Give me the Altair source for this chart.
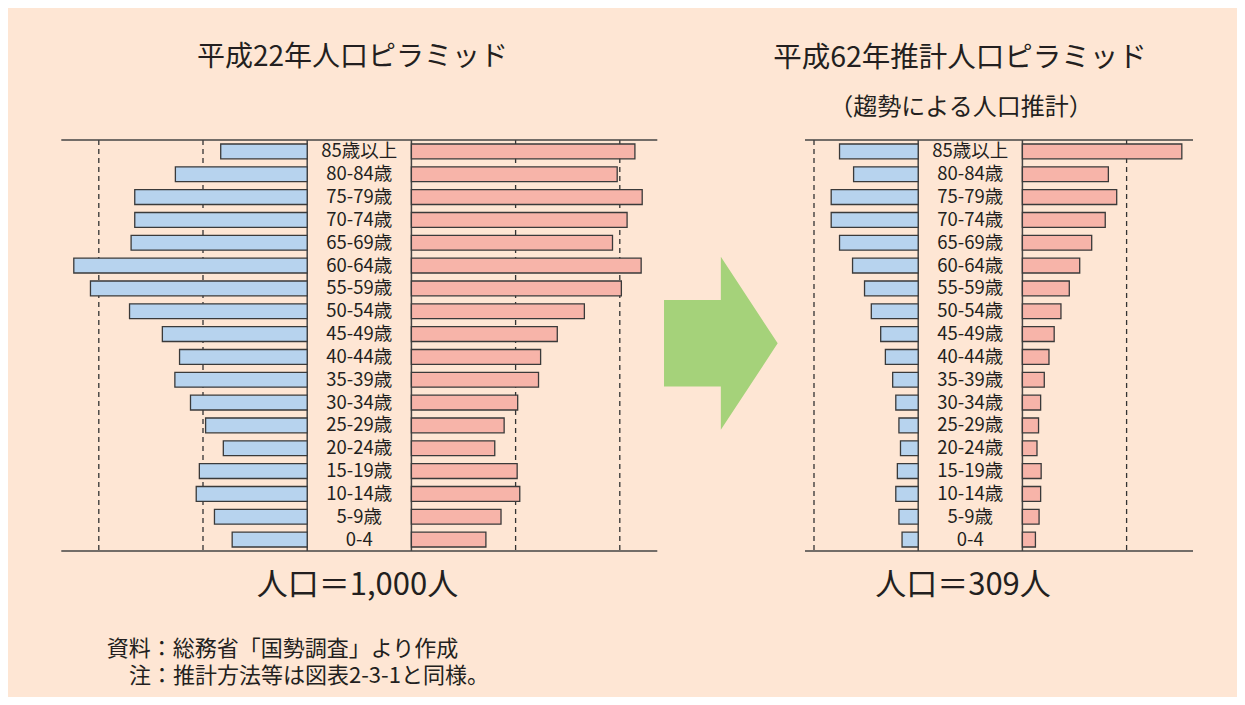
import altair as alt
import pandas as pd

# ---------------- data ----------------
ages = ["85歳以上", "80-84歳", "75-79歳", "70-74歳", "65-69歳", "60-64歳",
        "55-59歳", "50-54歳", "45-49歳", "40-44歳", "35-39歳", "30-34歳",
        "25-29歳", "20-24歳", "15-19歳", "10-14歳", "5-9歳", "0-4"]

# per 1,000 people (H22 total = 1,000)
male_h22 = [16.6, 25.3, 33.1, 33.1, 33.8, 44.8, 41.6, 34.1, 27.8, 24.5,
            25.4, 22.4, 19.5, 16.1, 20.7, 21.3, 17.8, 14.4]
female_h22 = [42.9, 39.5, 44.3, 41.4, 38.6, 44.1, 40.3, 33.2, 28.0, 24.8,
              24.4, 20.4, 17.8, 16.0, 20.3, 20.8, 17.2, 14.3]
# H62 projection (total = 309)
male_h62 = [15.1, 12.4, 16.7, 16.7, 15.1, 12.6, 10.3, 9.0, 7.2, 6.3,
            4.9, 4.3, 3.7, 3.4, 4.0, 4.3, 3.7, 3.1]
female_h62 = [30.6, 16.5, 18.1, 15.9, 13.3, 11.0, 9.0, 7.4, 6.1, 5.1,
              4.2, 3.5, 3.1, 2.8, 3.6, 3.5, 3.2, 2.5]

grid_h22 = [20, 40]
grid_h62 = [20]

title_h22 = "平成22年人口ピラミッド"
title_h62 = "平成62年推計人口ピラミッド"
subtitle_h62 = "（趨勢による人口推計）"
total_h22 = "人口＝1,000人"
total_h62 = "人口＝309人"
note1 = "資料：総務省「国勢調査」より作成"
note2 = "注：推計方法等は図表2-3-1と同様。"

# ---------------- style ----------------
BG = "#FEE6D4"
BLUE = "#B7D3EE"
PINK = "#F7B4A9"
GREEN = "#A5D27A"
EDGE = "#3A3A3A"
TEXT = "#231F20"
FONT = "Noto Sans CJK JP"
HALF = 10  # half of the central label gap, in data units
Y_TOP, Y_BOT = 132, 543

W, H = 1229, 689

yscale = alt.Scale(domain=ages, range=[Y_TOP, Y_BOT], paddingInner=0.35, paddingOuter=0.175)


def pyramid(male, female, grid, dom, rng):
    xs = alt.Scale(domain=dom, range=rng)
    df = pd.DataFrame({"age": ages, "male": male, "female": female})
    Y = alt.Y("age:N", scale=yscale, axis=None)
    layers = []
    gdf = pd.DataFrame({"g": grid})
    for sgn in (-1, 1):
        layers.append(
            alt.Chart(gdf).transform_calculate(gx=f"{sgn} * ({HALF} + datum.g)")
            .mark_rule(color="#333333", strokeWidth=1.3, strokeDash=[5, 4])
            .encode(x=alt.X("gx:Q", scale=xs, axis=None),
                    y=alt.value(Y_TOP), y2=alt.value(Y_BOT))
        )
    # frame: top and bottom lines
    fdf = pd.DataFrame({"a": [dom[0]], "b": [dom[1]]})
    for yy in (Y_TOP, Y_BOT):
        layers.append(
            alt.Chart(fdf).mark_rule(color="#444444", strokeWidth=1.5)
            .encode(x=alt.X("a:Q", scale=xs, axis=None), x2="b:Q", y=alt.value(yy))
        )
    # center box vertical lines
    cdf = pd.DataFrame({"c": [-HALF, HALF]})
    layers.append(
        alt.Chart(cdf).mark_rule(color="#444444", strokeWidth=1.5)
        .encode(x=alt.X("c:Q", scale=xs, axis=None), y=alt.value(Y_TOP), y2=alt.value(Y_BOT))
    )
    # male bars
    layers.append(
        alt.Chart(df).transform_calculate(x0=f"-{HALF} - datum.male", x1=f"-{HALF}")
        .mark_bar(fill=BLUE, stroke=EDGE, strokeWidth=1.3)
        .encode(x=alt.X("x0:Q", scale=xs, axis=None), x2="x1:Q", y=Y)
    )
    # female bars
    layers.append(
        alt.Chart(df).transform_calculate(x0=f"{HALF}", x1=f"{HALF} + datum.female")
        .mark_bar(fill=PINK, stroke=EDGE, strokeWidth=1.3)
        .encode(x=alt.X("x0:Q", scale=xs, axis=None), x2="x1:Q", y=Y)
    )
    # age labels
    layers.append(
        alt.Chart(df).transform_calculate(cx="0")
        .mark_text(font=FONT, fontSize=18.5, color=TEXT, baseline="middle", align="center")
        .encode(x=alt.X("cx:Q", scale=xs, axis=None), y=Y, text="age:N")
    )
    return layers


def label(txt, x, y, size, align="center"):
    return (alt.Chart(pd.DataFrame({"t": [txt]}))
            .mark_text(font=FONT, fontSize=size, color=TEXT, align=align, baseline="middle")
            .encode(x=alt.value(x), y=alt.value(y), text="t:N"))


K = 104.2 / 20  # px per unit
layers = []
layers += pyramid(male_h22, female_h22, grid_h22,
                  [-298 / K, 298 / K], [351.3 - 298, 351.3 + 298])
layers += pyramid(male_h62, female_h62, grid_h62,
                  [-165.3 / K, 222.7 / K], [797, 1185])

# arrow
arrow_path = "M -0.657 -0.5 L 0 -0.5 L 0 -1 L 0.657 0 L 0 1 L 0 0.5 L -0.657 0.5 Z"
layers.append(
    alt.Chart(pd.DataFrame({"a": [1]}))
    .mark_point(shape=arrow_path, filled=True, fill=GREEN, opacity=1, strokeWidth=0)
    .encode(x=alt.value(712.85), y=alt.value(335.35), size=alt.value(29929))
)

layers += [
    label(title_h22, 344.5, 49.5, 28),
    label(title_h62, 952, 50, 28.5),
    label(subtitle_h62, 953, 99.5, 24),
    label(total_h22, 349.5, 577.5, 31),
    label(total_h62, 955, 577.5, 31),
    label(note1, 98.7, 641, 22, "left"),
    label(note2, 121, 668, 22, "left"),
]

chart = (alt.layer(*layers)
         .resolve_scale(x="independent")
         .properties(width=W, height=H, padding=0,
                     autosize=alt.AutoSizeParams(type="none"))
         .configure(background=BG)
         .configure_view(strokeWidth=0, fill=BG))

chart.save("out.html", embed_options={"renderer": "svg", "actions": False})
